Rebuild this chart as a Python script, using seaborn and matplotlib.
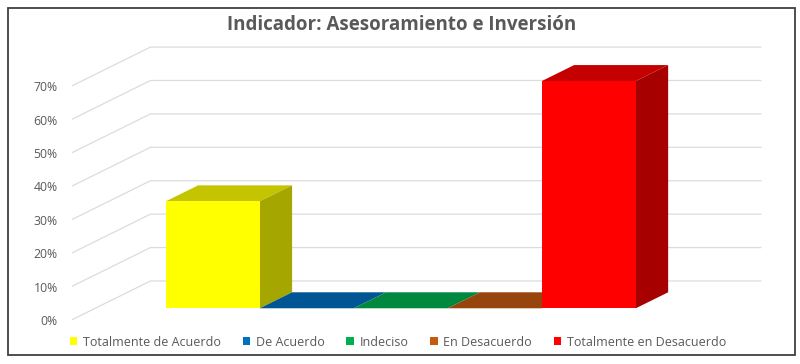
import numpy as np
import pandas as pd
import matplotlib
matplotlib.use("Agg")
import matplotlib.pyplot as plt
import seaborn as sns
from matplotlib.patches import Polygon, Patch, Rectangle
from matplotlib.transforms import Affine2D
from matplotlib.colors import to_rgb

# ---- data ----
categories = ["Totalmente de Acuerdo", "De Acuerdo", "Indeciso", "En Desacuerdo", "Totalmente en Desacuerdo"]
values = [32, 0, 0, 0, 68]
colors = ["#FFFF00", "#0070C0", "#00B050", "#C55A11", "#FF0000"]
yticks = [0, 10, 20, 30, 40, 50, 60, 70]
ytick_labels = [f"{t}%" for t in yticks]
title = "Indicador: Asesoramiento e Inversión"

sns.set_theme(style="white")
plt.rcParams['font.family'] = ['Open Sans', 'DejaVu Sans']

TXT = "#595959"
GRID = "#dcdcdc"

fig = plt.figure(figsize=(8, 3.64), dpi=100)
ax = fig.add_axes([71.5 / 800, 44 / 364, 691 / 800, 274 / 364])

# oblique 3D depth (data units) and bar depth fractions
DX, DY = 0.84, 11.68
F0, F1 = 0.30, 0.71
XL, XR = -1.25, 5.25

df = pd.DataFrame({"cat": categories, "val": values})
sns.barplot(data=df, x="cat", y="val", hue="cat", palette=colors, width=1.0,
            saturation=1, legend=False, ax=ax, zorder=3, linewidth=0)

ax.set_xlim(-1.25, 6.1)
ax.set_ylim(0, 82)

def shade(c, k):
    r, g, b = to_rgb(c)
    return (r * k, g * k, b * k)

# 3D faces built from the seaborn bars
for p, col in zip(list(ax.patches), colors):
    x0, w, h = p.get_x(), p.get_width(), p.get_height()
    x1 = x0 + w
    top = [(x0 + F0 * DX, h + F0 * DY), (x1 + F0 * DX, h + F0 * DY),
           (x1 + F1 * DX, h + F1 * DY), (x0 + F1 * DX, h + F1 * DY)]
    side = [(x1 + F0 * DX, F0 * DY), (x1 + F1 * DX, F1 * DY),
            (x1 + F1 * DX, h + F1 * DY), (x1 + F0 * DX, h + F0 * DY)]
    ax.add_patch(Polygon(top, closed=True, fc=shade(col, 0.77), ec="none", zorder=2))
    if h > 0:
        ax.add_patch(Polygon(side, closed=True, fc=shade(col, 0.65), ec="none", zorder=2))
    p.set_transform(Affine2D().translate(F0 * DX, F0 * DY) + ax.transData)

# wall gridlines (left wall diagonals + back wall horizontals)
for t in yticks:
    ax.plot([XL, XL + DX, XR + DX], [t, t + DY, t + DY], color=GRID, lw=0.9,
            zorder=1, solid_capstyle="butt")

ax.set_xticks([])
ax.set_xlabel("")
ax.set_ylabel("")
ax.set_yticks(yticks)
ax.set_yticklabels(ytick_labels)
ax.tick_params(axis="y", length=0, pad=10, labelsize=8.8, labelcolor=TXT)
for s in ax.spines.values():
    s.set_visible(False)
ax.grid(False)
ax.set_facecolor("none")

# title
fig.text(402 / 800, 1 - 25 / 364, title, ha="center", va="center",
         fontsize=13.5, fontweight="bold", color=TXT)

# legend
handles = [Patch(facecolor=c, edgecolor="none") for c in colors]
fig.legend(handles, categories, loc="center", bbox_to_anchor=(398 / 800, 1 - 342 / 364),
           ncol=5, frameon=False, handlelength=0.6, handleheight=0.6,
           handletextpad=0.45, columnspacing=1.75, fontsize=9, labelcolor=TXT)

# chart border
fig.patches.append(Rectangle((8 / 800, 9 / 364), 787 / 800, 347 / 364,
                             transform=fig.transFigure, fill=False,
                             ec="#404040", lw=1.3))

fig.savefig("out.png", dpi=100)
